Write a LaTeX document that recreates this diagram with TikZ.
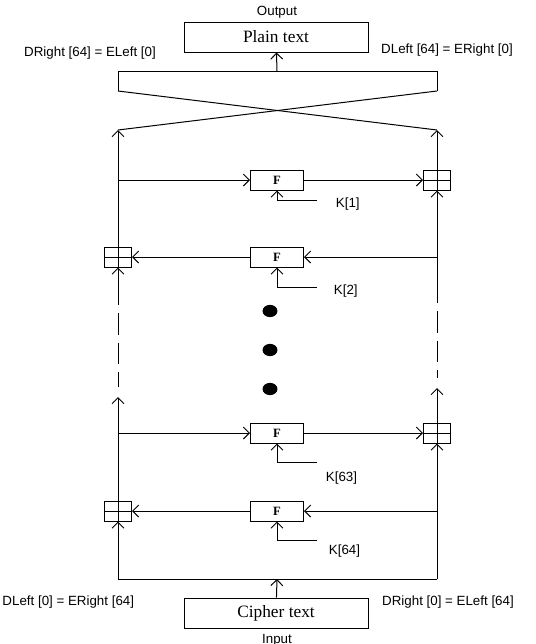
\documentclass[tikz,border=0pt]{standalone}
\usepackage{fontspec}
\setmainfont{Liberation Serif}
\setsansfont{Liberation Sans}
\usepackage{tikz}
\usetikzlibrary{arrows.meta}

\begin{document}
\begin{tikzpicture}[
    x=0.75pt, y=-0.75pt,
    line width=0.75pt,
    font=\sffamily\fontsize{10}{12}\selectfont,
    txtbox/.style={draw, minimum width=138pt, minimum height=22.5pt, font=\rmfamily\fontsize{13}{15}\selectfont},
    fbox/.style={draw, minimum width=39.75pt, minimum height=15pt, font=\rmfamily\bfseries\fontsize{9.5}{10}\selectfont},
    xorbox/.style={draw, minimum width=20.25pt, minimum height=15pt,
        path picture={\draw (path picture bounding box.north) -- (path picture bounding box.south);
                      \draw (path picture bounding box.west) -- (path picture bounding box.east);}},
    arr/.style={-{Straight Barb[length=4.5pt, width=9pt]}},
    gap/.style={dash pattern=on 16pt off 6pt},
]
\useasboundingbox (0,0) rectangle (536,644);

% --- Sortie ---
\node (output) at (277,12) {Output};
\node[txtbox] (plain) at (276,37) {Plain text};
\node (dright64) at (90,53) {DRight [64] = ELeft [0]};
\node (dleft64) at (447,50) {DLeft [64] = ERight [0]};

% --- Echange final ---
\coordinate (swap) at (277,71);
\coordinate (swl) at (118,71);
\coordinate (swr) at (437,71);
\coordinate (swl2) at (118,91);
\coordinate (swr2) at (437,91);
\coordinate (cl) at (118,130);
\coordinate (cr) at (437,130);
\draw (swl2) -- (swl) -- (swr) -- (swr2);
\draw (swl2) -- (cr);
\draw (swr2) -- (cl);
\draw[arr] (swap) -- (plain);

% --- Tours ---
\node[fbox] (f1) at (277,180) {F};
\node[xorbox] (x1) at (437,180) {};
\node[fbox] (f2) at (277,257) {F};
\node[xorbox] (x2) at (118,257) {};
\node[fbox] (f63) at (277,433) {F};
\node[xorbox] (x63) at (437,433) {};
\node[fbox] (f64) at (277,511) {F};
\node[xorbox] (x64) at (118,511) {};

% --- Sous-clés ---
\coordinate (k1) at (317,200);
\coordinate (k2) at (317,287);
\coordinate (k63) at (317,462);
\coordinate (k64) at (317,540);
\node[anchor=west] (lk1) at (331,204) {K[1]};
\node[anchor=west] (lk2) at (329,291) {K[2]};
\node[anchor=west] (lk63) at (321,478) {K[63]};
\node[anchor=west] (lk64) at (324,551) {K[64]};
\foreach \k/\f in {k1/f1, k2/f2, k63/f63, k64/f64} {
  \draw[arr] (\k) -| (\f);
}

% --- Flux des tours ---
\draw[arr] (x2) -- (cl);
\draw[arr] (x1) -- (cr);
\draw[arr] (x2 |- f1) -- (f1);
\draw[arr] (f1) -- (x1);
\draw[arr] (x1 |- f2) -- (f2);
\draw[arr] (f2) -- (x2);
\draw[arr] (x64 |- f63) -- (f63);
\draw[arr] (f63) -- (x63);
\draw[arr] (x63 |- f64) -- (f64);
\draw[arr] (f64) -- (x64);

% --- Parties en pointillés (tours 3 à 62) ---
\coordinate (l2) at (118,284);
\coordinate (l3) at (118,397);
\coordinate (r2) at (437,282);
\coordinate (r3) at (437,388);
\draw[arr] (l2) -- (x2);
\draw[arr] (r2) -- (x1);
\draw[gap] (l2) -- (118,387);
\draw[gap] (r2) -- (437,378);
\draw[arr] (x64) -- (l3);
\draw[arr] (x63) -- (r3);
\foreach \y in {311,350,389} {
  \fill (270,\y) ellipse [x radius=5.6pt, y radius=4.6pt];
}

% --- Entrée ---
\node[txtbox] (cipher) at (276,613) {Cipher text};
\node (input) at (277,640) {Input};
\node[anchor=east] (dleft0) at (139,602) {DLeft [0] = ERight [64]};
\node (dright0) at (448,602) {DRight [0] = ELeft [64]};
\coordinate (bl) at (118,579);
\coordinate (bm) at (277,579);
\coordinate (br) at (437,579);
\draw (bl) -- (br);
\draw[arr] (cipher) -- (bm);
\draw[arr] (bl) -- (x64);
\draw[arr] (br) -- (x63);

\end{tikzpicture}
\end{document}
